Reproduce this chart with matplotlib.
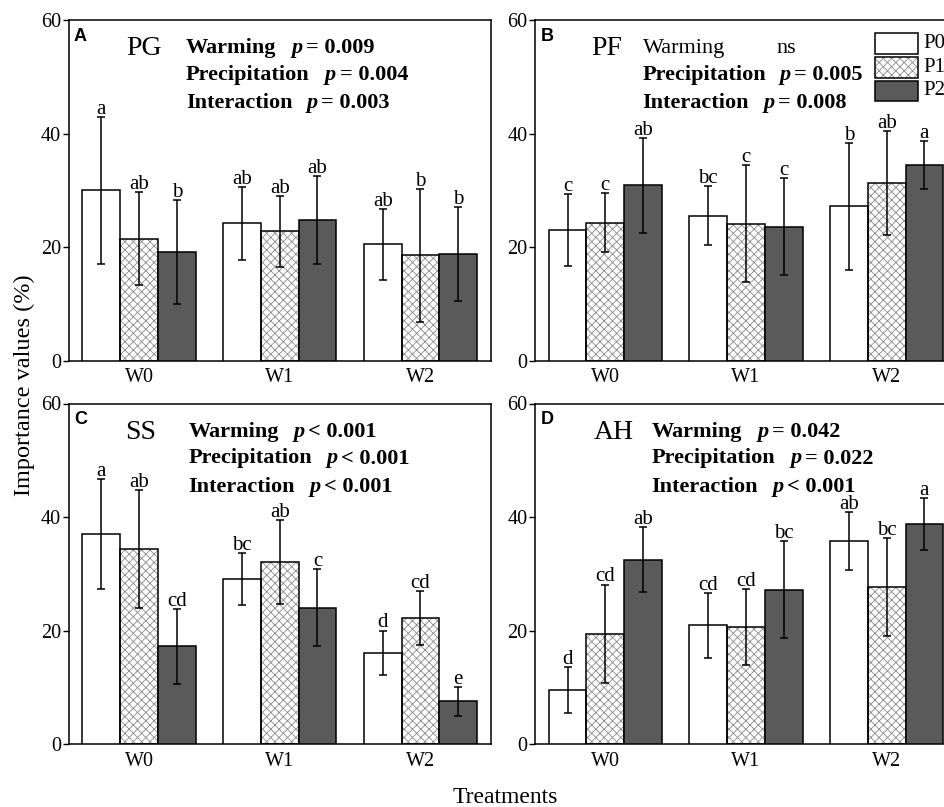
import matplotlib
matplotlib.use("Agg")
import matplotlib.pyplot as plt
from matplotlib.patches import Rectangle
import numpy as np

plt.rcParams["font.family"] = ["Liberation Serif", "DejaVu Serif"]
plt.rcParams["hatch.linewidth"] = 0.6

groups = ["W0", "W1", "W2"]
levels = ["P0", "P1", "P2"]

# rows = P0, P1, P2 ; columns = W0, W1, W2
pg_mean = [[30.0, 24.2, 20.5], [21.5, 22.8, 18.6], [19.1, 24.8, 18.8]]
pg_sd = [[13.0, 6.4, 6.25], [8.2, 6.3, 11.7], [9.15, 7.7, 8.3]]
pg_letters = [["a", "ab", "ab"], ["ab", "ab", "b"], ["b", "ab", "b"]]

pf_mean = [[23.1, 25.5, 27.2], [24.3, 24.1, 31.3], [30.9, 23.6, 34.5]]
pf_sd = [[6.35, 5.2, 11.15], [5.2, 10.3, 9.1], [8.35, 8.55, 4.2]]
pf_letters = [["c", "bc", "b"], ["c", "c", "ab"], ["ab", "c", "a"]]

ss_mean = [[37.0, 29.1, 16.1], [34.3, 32.0, 22.2], [17.2, 24.0, 7.5]]
ss_sd = [[9.65, 4.6, 3.9], [10.4, 7.4, 4.7], [6.55, 6.8, 2.6]]
ss_letters = [["a", "bc", "d"], ["ab", "ab", "cd"], ["cd", "c", "e"]]

ah_mean = [[9.5, 20.9, 35.7], [19.4, 20.6, 27.6], [32.5, 27.2, 38.8]]
ah_sd = [[4.0, 5.75, 5.1], [8.7, 6.75, 8.65], [5.7, 8.6, 4.6]]
ah_letters = [["d", "cd", "ab"], ["cd", "cd", "bc"], ["ab", "bc", "a"]]

pg_stats = [("Warming", "p = 0.009"), ("Precipitation", "p = 0.004"), ("Interaction", "p = 0.003")]
pf_stats = [("Warming", "ns"), ("Precipitation", "p = 0.005"), ("Interaction", "p = 0.008")]
ss_stats = [("Warming", "p < 0.001"), ("Precipitation", "p < 0.001"), ("Interaction", "p < 0.001")]
ah_stats = [("Warming", "p = 0.042"), ("Precipitation", "p = 0.022"), ("Interaction", "p < 0.001")]

FACE = ["white", "white", "#5a5a5a"]
HATCH = [None, "xxxx", None]
HATCH_COLOR = "#8a8a8a"

AX_W = 422.0
AX_H = 340.5
BAR_W = 0.268


def fx(px):
    return px / AX_W


def fy(px):
    return 1 - px / AX_H


def draw_panel(ax, tag, species, mean, sd, letters, stats, species_dx, label_dx, p_dx, row_dy, plain_first=False):
    x = np.arange(len(groups))
    for i in range(len(levels)):
        xi = x + (i - 1) * BAR_W
        if HATCH[i]:
            ax.bar(xi, mean[i], BAR_W, color=FACE[i], edgecolor=HATCH_COLOR, hatch=HATCH[i], linewidth=0, zorder=2)
        ax.bar(xi, mean[i], BAR_W, color=FACE[i] if not HATCH[i] else "none", edgecolor="black", linewidth=1.1, zorder=3)
        ax.errorbar(xi, mean[i], yerr=sd[i], fmt="none", ecolor="black", elinewidth=1.1, capsize=2.8, capthick=1.1, zorder=4)
        for j in range(len(groups)):
            ax.annotate(letters[i][j], (xi[j], mean[i][j] + sd[i][j]), xytext=(0, 2.2), textcoords="offset points",
                        ha="center", va="baseline", fontsize=15)

    ax.set_xlim(-0.5, 2.5)
    ax.set_ylim(0, 60)
    ax.set_yticks([0, 20, 40, 60])
    ax.set_xticks(x)
    ax.set_xticklabels(groups)
    ax.tick_params(axis="y", direction="out", length=4, width=1, pad=1.5, labelsize=14.5)
    ax.tick_params(axis="x", length=0, pad=5.5, labelsize=14.5)
    for s in ax.spines.values():
        s.set_linewidth(1.1)

    ax.text(fx(5.3), fy(20.7), tag, transform=ax.transAxes, family="Liberation Sans", fontweight="bold",
            fontsize=13, va="baseline", ha="left")
    ax.text(fx(species_dx), fy(row_dy[0] + 2.3), species, transform=ax.transAxes, fontsize=20,
            va="baseline", ha="left")
    for k, (lab, ptxt) in enumerate(stats):
        weight = "normal" if (plain_first and k == 0) else "bold"
        ax.text(fx(label_dx), fy(row_dy[k]), lab, transform=ax.transAxes, fontsize=16,
                fontweight=weight, va="baseline", ha="left")
        if ptxt.startswith("p"):
            ax.text(fx(p_dx[k]), fy(row_dy[k]), "p", transform=ax.transAxes, fontsize=16,
                    fontweight="bold", style="italic", va="baseline", ha="left")
            ax.text(fx(p_dx[k] + 14.5), fy(row_dy[k]), ptxt[2:], transform=ax.transAxes, fontsize=16,
                    fontweight="bold", va="baseline", ha="left")
        else:
            ax.text(fx(p_dx[k]), fy(row_dy[k]), ptxt, transform=ax.transAxes, fontsize=16,
                    fontweight=weight, va="baseline", ha="left")


fig = plt.figure(figsize=(9.45, 8.07), dpi=100)
axA = fig.add_axes([68.7 / 945, 1 - 360.7 / 807, AX_W / 945, AX_H / 807])
axB = fig.add_axes([535 / 945, 1 - 360.7 / 807, AX_W / 945, AX_H / 807])
axC = fig.add_axes([68.7 / 945, 1 - 744 / 807, AX_W / 945, AX_H / 807])
axD = fig.add_axes([535 / 945, 1 - 744 / 807, AX_W / 945, AX_H / 807])

draw_panel(axA, "A", "PG", pg_mean, pg_sd, pg_letters, pg_stats, 58, 117.3, [223, 256.3, 238], [32.4, 59.7, 88])
draw_panel(axB, "B", "PF", pf_mean, pf_sd, pf_letters, pf_stats, 56.7, 107.7, [241.7, 245, 228.3], [32.4, 59.7, 88],
           plain_first=True)
draw_panel(axC, "C", "SS", ss_mean, ss_sd, ss_letters, ss_stats, 56.3, 119.6, [224.6, 258, 241.3], [33.4, 60, 88.4])
draw_panel(axD, "D", "AH", ah_mean, ah_sd, ah_letters, ah_stats, 58.3, 116.7, [222.3, 255.7, 237.3], [33.4, 60, 88.4])

# legend in panel B
tops = [13, 37, 60.4]
for i, lev in enumerate(levels):
    y0 = fy(tops[i] + 20.7)
    if HATCH[i]:
        axB.add_patch(Rectangle((fx(340), y0), fx(43.3), 20.7 / AX_H, transform=axB.transAxes, facecolor="white",
                                edgecolor=HATCH_COLOR, hatch=HATCH[i], linewidth=0, clip_on=False, zorder=5))
    axB.add_patch(Rectangle((fx(340), y0), fx(43.3), 20.7 / AX_H, transform=axB.transAxes,
                            facecolor=FACE[i] if not HATCH[i] else "none", edgecolor="black", linewidth=1.1,
                            clip_on=False, zorder=6))
    axB.text(fx(388.3), fy(tops[i] + 10.35), lev, transform=axB.transAxes, fontsize=15, va="center", ha="left",
             clip_on=False)

fig.text(24 / 945, 1 - 385 / 807, "Importance values (%)", rotation=90, fontsize=17.5, ha="center", va="center")
fig.text(505 / 945, 1 - 803 / 807, "Treatments", fontsize=17, ha="center", va="baseline")

fig.savefig("out.png", dpi=100)
